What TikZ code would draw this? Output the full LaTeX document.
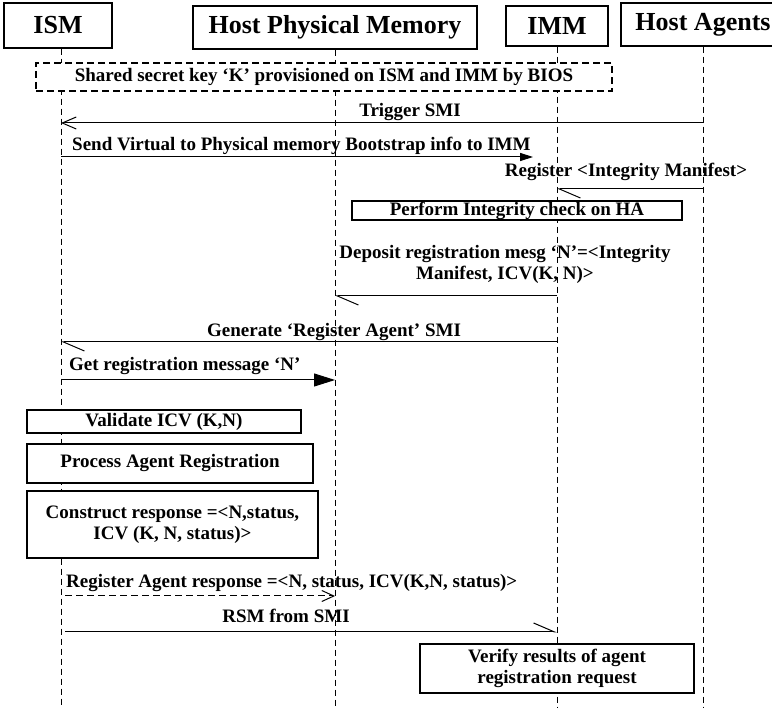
\documentclass[tikz,border=0pt]{standalone}
\usepackage{fontspec}
\setmainfont{Liberation Serif}
\usetikzlibrary{arrows.meta}

\begin{document}
\begin{tikzpicture}[x=1pt, y=-1pt,
  head/.style = {draw, line width=1.2pt, fill=white, inner sep=0pt, font=\bfseries\fontsize{26}{30}\selectfont},
  act/.style = {draw, line width=1.2pt, fill=white, inner sep=0pt, align=center, font=\bfseries\fontsize{19}{21}\selectfont},
  lbl/.style = {inner sep=0pt, align=center, font=\bfseries\fontsize{19}{21}\selectfont},
  life/.style = {line width=0.9pt, dash pattern=on 6pt off 4pt},
  msg/.style = {line width=1pt},
  open/.style = {msg, -{Straight Barb[length=14pt,width=12pt]}},
  half/.style = {msg, -{Straight Barb[left,length=21pt,width=18pt]}},
  solid/.style = {msg, -{Triangle[length=#1,width=0.62*#1]}}]
\useasboundingbox (0,0) rectangle (772,708);
% participants
\node[head, minimum width=108pt, minimum height=45pt] (ism) at (58,25.5) {ISM};
\node[head, minimum width=284pt, minimum height=43pt] (hpm) at (335,27.5) {Host Physical Memory};
\node[head, minimum width=102pt, minimum height=40pt] (imm) at (557,26) {IMM};
\node[head, minimum width=164pt, minimum height=43pt] (ha) at (703,24.5) {Host Agents};
% lifelines
\coordinate (ism-end) at (61,708);
\coordinate (hpm-end) at (335,708);
\coordinate (imm-end) at (557,708);
\coordinate (ha-end) at (703,708);
\draw[life] (ism.south -| ism-end) -- (ism-end);
\draw[life] (hpm.south -| hpm-end) -- (hpm-end);
\draw[life] (imm.south -| imm-end) -- (imm-end);
\draw[life] (ha.south -| ha-end) -- (ha-end);
% provisioning
\node[act, line width=1.1pt, dash pattern=on 7pt off 4pt, minimum width=576pt, minimum height=28pt] (key) at (324,77) {Shared secret key ‘K’ provisioned on ISM and IMM by BIOS};
% messages
\coordinate (ha-1) at (703,123);
\coordinate (ism-1) at (61,123);
\draw[open] (ha-1) -- (ism-1);
\node[lbl, anchor=base] (trig) at (410,117) {Trigger SMI};
\coordinate (ism-2) at (61,157);
\coordinate (imm-2) at (533,157);
\draw[solid=13pt] (ism-2) -- (imm-2);
\node[lbl, anchor=base west] (boot) at (72,151) {Send Virtual to Physical memory Bootstrap info to IMM};
\coordinate (ha-3) at (703,189);
\coordinate (imm-3) at (557,189);
\draw[half] (ha-3) -- (imm-3);
\node[lbl, anchor=base] (reg) at (626,177) {Register <Integrity Manifest>};
\node[act, minimum width=330pt, minimum height=19pt] (check) at (517,210.5) {Perform Integrity check on HA};
\coordinate (imm-4) at (557,296);
\coordinate (hpm-4) at (335,296);
\draw[half] (imm-4) -- (hpm-4);
\node[lbl] (depo) at (505,264) {Deposit registration mesg ‘N’=<Integrity\\Manifest, ICV(K, N)>};
\coordinate (imm-5) at (557,342);
\coordinate (ism-5) at (61,342);
\draw[half] (imm-5) -- (ism-5);
\node[lbl, anchor=base] (gen) at (334,337) {Generate ‘Register Agent’ SMI};
\coordinate (ism-6) at (61,380);
\coordinate (hpm-6) at (335,380);
\draw[solid=21pt] (ism-6) -- (hpm-6);
\node[lbl, anchor=base west] (get) at (69,371) {Get registration message ‘N’};
% processing on ISM
\node[act, minimum width=274pt, minimum height=23pt] (valid) at (164,421.5) {Validate ICV (K,N)};
\node[act, minimum width=286pt, minimum height=39pt] (proc) at (170,463.5) {Process Agent Registration};
\node[act, minimum width=291pt, minimum height=67pt] (resp) at (172.5,524.5) {Construct response =<N,status,\\ICV (K, N, status)>};
% response
\coordinate (ism-7) at (61,596);
\coordinate (hpm-7) at (335,596);
\draw[msg, dash pattern=on 7pt off 4pt, shorten <=4pt, -{Straight Barb[length=12pt,width=11pt]}] (ism-7) -- (hpm-7);
\node[lbl, anchor=base west] (ans) at (66,588) {Register Agent response =<N, status, ICV(K,N, status)>};
\coordinate (ism-8) at (61,632);
\coordinate (imm-8) at (557,632);
\draw[half, shorten <=4pt] (ism-8) -- (imm-8);
\node[lbl, anchor=base] (rsm) at (286,623) {RSM from SMI};
\node[act, minimum width=274pt, minimum height=49pt] (verify) at (557,668.5) {Verify results of agent\\registration request};
\end{tikzpicture}
\end{document}
